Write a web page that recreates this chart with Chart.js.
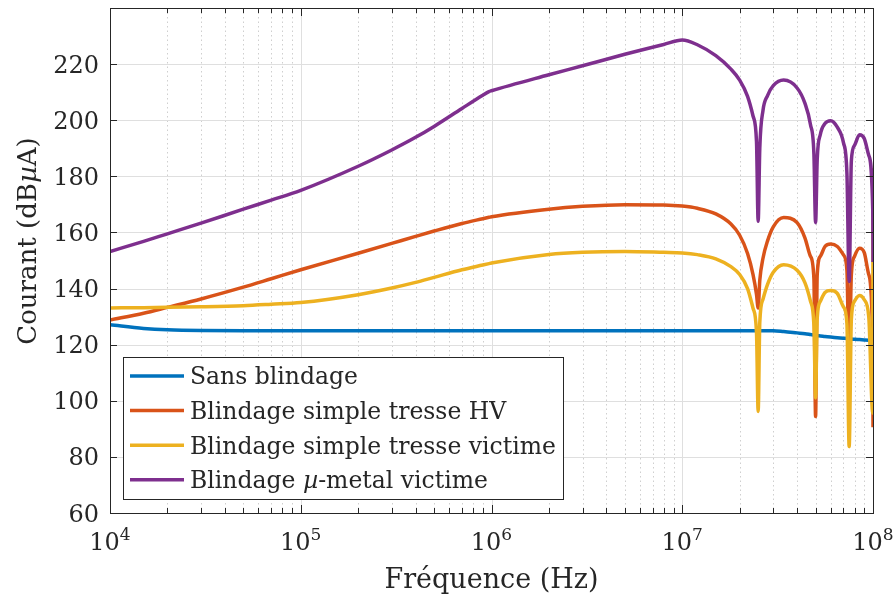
<!DOCTYPE html>
<html>
<head>
<meta charset="utf-8">
<script src="https://cdn.jsdelivr.net/npm/chart.js@4.4.1/dist/chart.umd.min.js"></script>
<style>
  html, body { margin: 0; padding: 0; background: #fff; }
</style>
</head>
<body>
<canvas id="courantChart" width="894" height="601"></canvas>
<script>
// frequencies (Hz) shared by every curve
const freq = [1e4, 1.5e4, 2e4, 3e4, 5e4, 7e4, 1e5, 2e5, 3e5, 4e5, 5e5, 7e5, 9e5, 9.7e5, 1e6,
  2e6, 3e6, 5e6, 8e6, 1e7, 1.2e7, 1.5e7, 1.8e7, 2e7, 2.2e7, 2.35e7, 2.45e7, 2.5e7, 2.55e7,
  2.65e7, 2.8e7, 3e7, 3.4e7, 4e7, 4.4e7, 4.7e7, 4.9e7, 5e7, 5.1e7, 5.3e7, 5.6e7, 6e7, 6.5e7,
  7e7, 7.3e7, 7.5e7, 7.7e7, 8e7, 8.5e7, 9e7, 9.5e7, 9.97e7, 1e8];

// courant in dBuA
const sansBlindage = [127.1, 125.8, 125.3, 125.05, 125, 125, 125, 125, 125, 125, 125, 125, 125, 125, 125,
  125, 125, 125, 125, 125, 125, 125, 125, 125, 125, 125, 125, 125, 125,
  125, 125, 125, 124.7, 124.2, 123.9, 123.6, 123.4, 123.3, 123.2, 123.1, 122.9, 122.7, 122.5,
  122.3, 122.2, 122.1, 122.0, 121.9, 121.8, 121.7, 121.6, 121.5, 121.5];
const tresseHV = [128.8, 131.2, 133.3, 136.3, 140.5, 143.5, 146.7, 152.6, 156.1, 158.6, 160.5, 163.2, 164.9, 165.4, 165.6,
  168.3, 169.3, 169.9, 169.8, 169.4, 168.6, 166.6, 163.0, 159.0, 152.5, 145.0, 138.0, 133.1, 143.0,
  150.8, 157.0, 162.0, 165.3, 163.5, 158.0, 151.5, 143.5, 94.4, 145.0, 151.5, 155.0, 155.9, 155.0,
  152.0, 146.5, 112.0, 145.0, 151.5, 154.4, 152.8, 145.0, 120.0, 90.6];
const tresseVictime = [133.1, 133.2, 133.3, 133.5, 133.9, 134.4, 135.0, 137.8, 140.2, 142.2, 144.0, 146.7, 148.4, 148.9, 149.1,
  152.1, 152.9, 153.2, 152.9, 152.7, 152.1, 150.6, 147.8, 145.0, 140.0, 133.0, 124.5, 96.2, 128.0,
  136.2, 141.5, 145.8, 148.5, 146.5, 142.0, 135.5, 127.0, 101.0, 129.5, 135.5, 138.6, 139.3, 138.3,
  133.5, 127.5, 83.7, 129.0, 135.5, 137.5, 136.0, 130.0, 95.6, 183.0];
const muMetal = [153.2, 156.8, 159.5, 163.3, 168.3, 171.5, 175.0, 183.6, 189.4, 193.9, 197.8, 204.2, 208.9, 210.2, 210.5,
  216.2, 219.4, 223.5, 227.0, 228.6, 226.9, 223.0, 218.2, 214.3, 208.5, 201.5, 192.5, 164.0, 190.0,
  203.5, 208.8, 212.3, 214.3, 211.5, 206.0, 198.5, 188.0, 163.5, 186.0, 195.0, 198.8, 199.8, 197.5,
  192.0, 181.0, 142.5, 185.5, 191.0, 194.8, 193.5, 187.5, 168.0, 149.5];

const seriesLabels = ['Sans blindage', 'Blindage simple tresse HV', 'Blindage simple tresse victime', 'Blindage \u00b5-metal victime'];
const seriesColors = ['#0072BD', '#D95319', '#EDB120', '#7E2F8E'];
const yTicks = [60, 80, 100, 120, 140, 160, 180, 200, 220];
const xExponents = [4, 5, 6, 7, 8];

const ink = '#262626';
const serif = '"DejaVu Serif", serif';

function toPoints(values) {
  return freq.map((f, i) => ({ x: f, y: values[i] }));
}

// draw a run of text pieces, some italic, starting at x
function richText(ctx, parts, x, y, size, align) {
  let total = 0;
  parts.forEach(p => {
    ctx.font = (p.italic ? 'italic ' : '') + size + 'px ' + serif;
    p.w = ctx.measureText(p.text).width;
    total += p.w;
  });
  let cx = align === 'center' ? x - total / 2 : x;
  ctx.textAlign = 'left';
  parts.forEach(p => {
    ctx.font = (p.italic ? 'italic ' : '') + size + 'px ' + serif;
    ctx.fillText(p.text, cx, y);
    cx += p.w;
  });
}

function splitMu(label) {
  const i = label.indexOf('\u00b5');
  if (i < 0) return [{ text: label }];
  return [{ text: label.slice(0, i) }, { text: '\u00b5', italic: true }, { text: label.slice(i + 1) }];
}

const matlabFrame = {
  id: 'matlabFrame',
  beforeDatasetsDraw(chart) {
    const { ctx, chartArea: a, scales: { x, y } } = chart;
    ctx.save();
    ctx.lineWidth = 1;
    // minor dotted grid
    ctx.strokeStyle = '#cfcfcf';
    ctx.setLineDash([1.5, 3]);
    xExponents.slice(0, -1).forEach(n => {
      for (let k = 2; k <= 9; k++) {
        const px = Math.round(x.getPixelForValue(k * Math.pow(10, n))) + 0.5;
        ctx.beginPath(); ctx.moveTo(px, a.top); ctx.lineTo(px, a.bottom); ctx.stroke();
      }
    });
    ctx.setLineDash([]);
    ctx.strokeStyle = '#dfdfdf';
    xExponents.forEach(n => {
      const px = Math.round(x.getPixelForValue(Math.pow(10, n))) + 0.5;
      ctx.beginPath(); ctx.moveTo(px, a.top); ctx.lineTo(px, a.bottom); ctx.stroke();
    });
    yTicks.forEach(v => {
      const py = Math.round(y.getPixelForValue(v)) + 0.5;
      ctx.beginPath(); ctx.moveTo(a.left, py); ctx.lineTo(a.right, py); ctx.stroke();
    });
    ctx.restore();
  },
  afterDraw(chart) {
    const { ctx, chartArea: a, scales: { x, y } } = chart;
    ctx.save();
    ctx.strokeStyle = ink;
    ctx.fillStyle = ink;
    ctx.lineWidth = 1;

    // axes box
    ctx.strokeRect(Math.round(a.left) + 0.5, Math.round(a.top) + 0.5,
      Math.round(a.right - a.left), Math.round(a.bottom - a.top));

    // inward ticks
    ctx.beginPath();
    xExponents.forEach((n, idx) => {
      const marks = [[Math.pow(10, n), 8]];
      if (idx < xExponents.length - 1) {
        for (let k = 2; k <= 9; k++) marks.push([k * Math.pow(10, n), 5]);
      }
      marks.forEach(([v, len]) => {
        const px = Math.round(x.getPixelForValue(v)) + 0.5;
        ctx.moveTo(px, a.bottom); ctx.lineTo(px, a.bottom - len);
        ctx.moveTo(px, a.top); ctx.lineTo(px, a.top + len);
      });
    });
    yTicks.forEach(v => {
      const py = Math.round(y.getPixelForValue(v)) + 0.5;
      ctx.moveTo(a.left, py); ctx.lineTo(a.left + 7, py);
      ctx.moveTo(a.right, py); ctx.lineTo(a.right - 7, py);
    });
    ctx.stroke();

    // y tick labels
    ctx.font = '24px ' + serif;
    ctx.textAlign = 'right';
    ctx.textBaseline = 'alphabetic';
    yTicks.forEach(v => {
      ctx.fillText(String(v), a.left - 11, y.getPixelForValue(v) + 8.5);
    });

    // x tick labels 10^n
    xExponents.forEach(n => {
      const px = x.getPixelForValue(Math.pow(10, n));
      ctx.font = '24px ' + serif;
      const wBase = ctx.measureText('10').width;
      ctx.font = '17px ' + serif;
      const wExp = ctx.measureText(String(n)).width;
      const x0 = px - (wBase + wExp) / 2;
      ctx.textAlign = 'left';
      ctx.font = '24px ' + serif;
      ctx.fillText('10', x0, a.bottom + 37);
      ctx.font = '17px ' + serif;
      ctx.fillText(String(n), x0 + wBase, a.bottom + 27);
    });

    // axis titles
    richText(ctx, [{ text: 'Fr\u00e9quence (Hz)' }], (a.left + a.right) / 2, 588, 27, 'center');
    ctx.save();
    ctx.translate(36, 241);
    ctx.rotate(-Math.PI / 2);
    richText(ctx, [{ text: 'Courant (dB' }, { text: '\u00b5', italic: true }, { text: 'A)' }], 0, 0, 26, 'center');
    ctx.restore();

    // legend box, lower left
    const box = { left: 123.5, top: 357.5, width: 440, height: 142 };
    ctx.fillStyle = '#ffffff';
    ctx.fillRect(box.left, box.top, box.width, box.height);
    ctx.strokeStyle = ink;
    ctx.strokeRect(box.left, box.top, box.width, box.height);
    chart.data.datasets.forEach((ds, i) => {
      const rowY = 376 + i * 34.6;
      ctx.strokeStyle = ds.borderColor;
      ctx.lineWidth = 3.5;
      ctx.beginPath(); ctx.moveTo(130, rowY); ctx.lineTo(184, rowY); ctx.stroke();
      ctx.fillStyle = ink;
      richText(ctx, splitMu(ds.label), 190, rowY + 8.3, 23.5, 'left');
    });
    ctx.restore();
  }
};

const ctx = document.getElementById('courantChart').getContext('2d');
const courantChart = new Chart(ctx, {
  type: 'line',
  data: {
    datasets: [sansBlindage, tresseHV, tresseVictime, muMetal].map((values, i) => ({
      label: seriesLabels[i],
      data: toPoints(values),
      borderColor: seriesColors[i],
      backgroundColor: seriesColors[i],
      borderWidth: 3.5,
      pointRadius: 0,
      cubicInterpolationMode: 'monotone',
      fill: false,
      order: 4 - i // later series drawn on top, like the original plot
    }))
  },
  options: {
    responsive: false,
    devicePixelRatio: 1,
    animation: false,
    layout: { padding: { left: 0, right: 21, top: 8, bottom: 0 } },
    scales: {
      x: {
        type: 'logarithmic',
        min: 1e4,
        max: 1e8,
        grid: { display: false },
        border: { display: false },
        ticks: { display: false },
        afterFit: scale => { scale.height = 88; }
      },
      y: {
        min: 60,
        max: 240,
        grid: { display: false },
        border: { display: false },
        ticks: { display: false },
        afterFit: scale => { scale.width = 110; }
      }
    },
    plugins: {
      legend: { display: false },
      tooltip: { enabled: false }
    }
  },
  plugins: [matlabFrame]
});
</script>
</body>
</html>
